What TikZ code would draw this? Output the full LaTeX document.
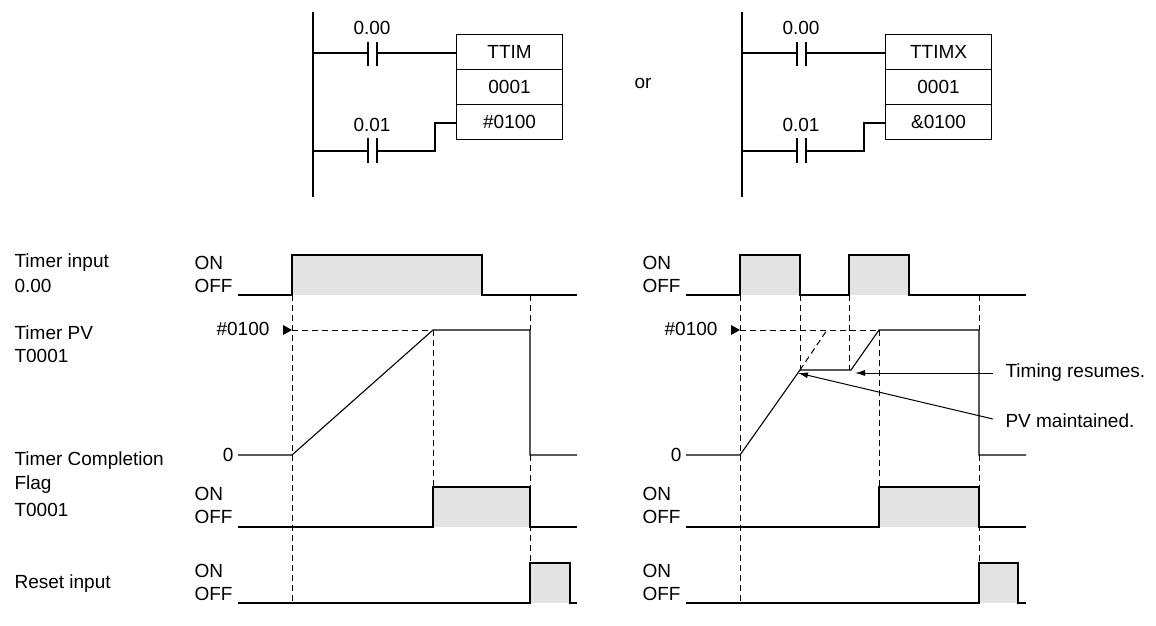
\documentclass[tikz,border=0pt]{standalone}
\usepackage{fontspec}
\setmainfont{Liberation Sans}
\usetikzlibrary{arrows.meta}
\begin{document}
\begin{tikzpicture}[x=1pt,y=-1pt,line width=1.1pt,
  txt/.style={font=\fontsize{19}{22}\selectfont,inner sep=0pt},
  lab/.style={txt,anchor=west},
  dsh/.style={dash pattern=on 6pt off 4pt,line width=1pt},
  fillg/.style={fill=black!11,draw=none},
  cell/.style={draw,minimum width=106pt,minimum height=35pt,txt,line width=1.1pt}]
\useasboundingbox (0,0) rectangle (1156,626);
% ===== ladders =====
\foreach \o/\nm/\sv in {0/TTIM/\#0100, 429/TTIMX/\&0100}{
\begin{scope}[xshift=\o pt]
 \draw (313,12) -- (313,197);
 \draw (313,53) -- (368,53) (368,42) -- (368,66) (377,42) -- (377,66) (377,53) -- (456,53);
 \draw (313,151) -- (368,151) (368,138) -- (368,163) (377,138) -- (377,163) (377,151) -- (435,151) -- (435,123) -- (456,123);
 \node[txt] at (372,28) {0.00};
 \node[txt] at (372,125) {0.01};
 \node[cell,anchor=north west] at (456,34) {\nm};
 \node[cell,anchor=north west] at (456,69) {0001};
 \node[cell,anchor=north west] at (456,104) {\sv};
\end{scope}}
\node[txt] (or) at (643,83) {or};
% ===== left labels =====
\node[lab] at (14,263) {Timer input};
\node[lab] at (14,286) {0.00};
\node[lab] at (14,333) {Timer PV};
\node[lab] at (14,356) {T0001};
\node[lab] at (14,461) {Timer Completion};
\node[lab] at (14,485) {Flag};
\node[lab] at (14,510) {T0001};
\node[lab] at (14,584) {Reset input};
\foreach \o in {0,448}{
 \begin{scope}[xshift=\o pt]
 \node[lab] at (194,263) {ON}; \node[lab] at (194,286) {OFF};
 \node[lab] at (194,494) {ON}; \node[lab] at (194,517) {OFF};
 \node[lab] at (194,571) {ON}; \node[lab] at (194,594) {OFF};
 \node[txt,anchor=east] at (270,329) {\#0100};
 \node[txt,anchor=east] at (234,455) {0};
 \fill (283,325) -- (292,330) -- (283,335) -- cycle;
 \end{scope}}
% ===== left chart =====
\fill[fillg] (292,255) rectangle (482,295);
\draw (238,295) -- (292,295) -- (292,255) -- (482,255) -- (482,295) -- (577,295);
\draw[dsh] (292,295) -- (292,603);
\draw[dsh] (292,330) -- (433,330);
\draw (238,455) -- (292,455) -- (433,330) -- (530,330) -- (530,455) -- (577,455);
\draw[dsh] (433,330) -- (433,487);
\draw[dsh] (530,295) -- (530,330) (530,455) -- (530,563);
\fill[fillg] (433,487) rectangle (530,527);
\draw (238,527) -- (433,527) -- (433,487) -- (530,487) -- (530,527) -- (577,527);
\fill[fillg] (530,563) rectangle (570,603);
\draw (238,603) -- (530,603) -- (530,563) -- (570,563) -- (570,603) -- (577,603);
% ===== right chart =====
\fill[fillg] (740,255) rectangle (800,295);
\fill[fillg] (849,255) rectangle (909,295);
\draw (686,295) -- (740,295) -- (740,255) -- (800,255) -- (800,295) -- (849,295) -- (849,255) -- (909,255) -- (909,295) -- (1026,295);
\draw[dsh] (740,295) -- (740,603);
\draw[dsh] (800,295) -- (800,370);
\draw[dsh] (849,295) -- (849,370);
\draw[dsh] (740,330) -- (879,330);
\draw[dsh] (800,370) -- (827,330);
\coordinate (hold) at (800,370);
\coordinate (res) at (851,370);
\draw (686,455) -- (740,455) -- (hold) -- (res) -- (879,330) -- (979,330) -- (979,455) -- (1026,455);
\draw[dsh] (879,330) -- (879,487);
\draw[dsh] (979,295) -- (979,330) (979,455) -- (979,563);
\fill[fillg] (879,487) rectangle (979,527);
\draw (686,527) -- (879,527) -- (879,487) -- (979,487) -- (979,527) -- (1026,527);
\fill[fillg] (979,563) rectangle (1018,603);
\draw (686,603) -- (979,603) -- (979,563) -- (1018,563) -- (1018,603) -- (1026,603);
% annotations
\node[lab] (tr) at (1005,373) {Timing resumes.};
\node[lab] (pv) at (1005,421) {PV maintained.};
\draw[line width=1pt,-{Latex[length=10pt,width=6pt]}] (993,373) -- (855,373);
\draw[line width=1pt,-{Latex[length=10pt,width=6pt]}] (993,419) -- (798,373);
\end{tikzpicture}
\end{document}
